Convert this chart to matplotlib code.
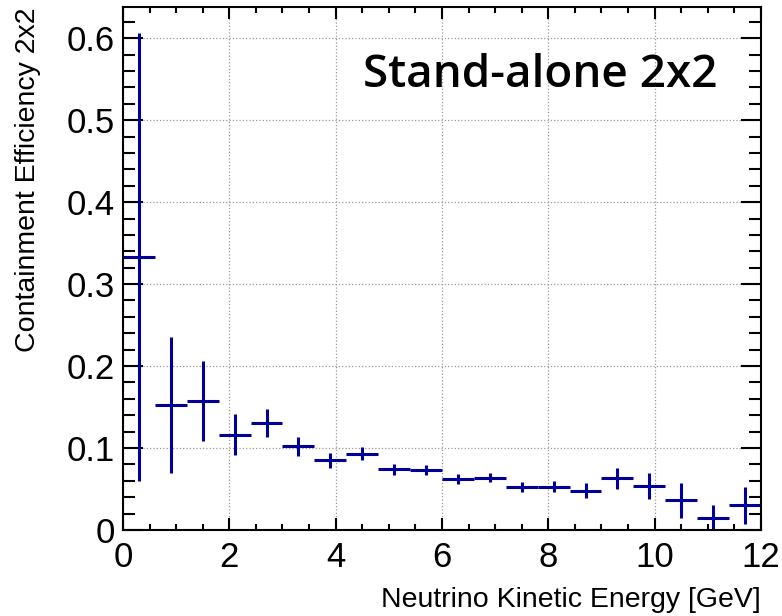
import numpy as np
import matplotlib
matplotlib.use("Agg")
import matplotlib.pyplot as plt
from matplotlib.ticker import MultipleLocator

# Bin centres (0.6 GeV wide bins from 0 to 12 GeV).
energy = [0.3, 0.9, 1.5, 2.1, 2.7, 3.3, 3.9, 4.5, 5.1, 5.7,
          6.3, 6.9, 7.5, 8.1, 8.7, 9.3, 9.9, 10.5, 11.1, 11.7]
half_width = [0.3] * 20

# Containment efficiency and its uncertainty.
efficiency = [0.333, 0.152, 0.157, 0.116, 0.131, 0.102, 0.085, 0.093, 0.074, 0.073,
              0.062, 0.064, 0.052, 0.053, 0.048, 0.063, 0.054, 0.036, 0.015, 0.030]
error = [0.273, 0.083, 0.049, 0.025, 0.017, 0.012, 0.009, 0.008, 0.007, 0.006,
         0.006, 0.006, 0.006, 0.007, 0.009, 0.013, 0.016, 0.021, 0.016, 0.023]

plt.rcParams["font.family"] = ["Liberation Sans", "DejaVu Sans"]

fig = plt.figure(figsize=(7.82, 6.16), dpi=100)
ax = fig.add_axes([0.1573, 0.1396, 0.9731 - 0.1573, 0.9886 - 0.1396])

ax.errorbar(energy, efficiency, xerr=half_width, yerr=error, fmt="none",
            ecolor="#000099", elinewidth=2.2, capsize=0)

ax.set_xlim(0, 12)
ax.set_ylim(0, 0.638)

# ROOT style ticks: inside, on all four sides.
ax.xaxis.set_major_locator(MultipleLocator(2))
ax.xaxis.set_minor_locator(MultipleLocator(0.5))
ax.yaxis.set_major_locator(MultipleLocator(0.1))
ax.yaxis.set_minor_locator(MultipleLocator(0.02))
ax.tick_params(which="both", direction="in", top=True, right=True, width=1.5)
ax.tick_params(which="major", labelsize=25)
ax.tick_params(axis="x", which="major", length=8.6, pad=8)
ax.tick_params(axis="x", which="minor", length=4.3)
ax.tick_params(axis="y", which="major", length=14.4, pad=6)
ax.tick_params(axis="y", which="minor", length=8.6)
ax.set_yticks([0, 0.1, 0.2, 0.3, 0.4, 0.5, 0.6])
ax.set_yticklabels(["0", "0.1", "0.2", "0.3", "0.4", "0.5", "0.6"])

for spine in ax.spines.values():
    spine.set_linewidth(1.5)

ax.grid(True, which="major", linestyle=":", color="#999999", linewidth=0.9)
ax.set_axisbelow(True)

ax.set_xlabel("Neutrino Kinetic Energy [GeV]", fontsize=20.5, loc="right", labelpad=9)
ax.set_ylabel("Containment Efficiency 2x2", fontsize=20.5, loc="top", labelpad=18)

ax.text(0.376, 0.847, "Stand-alone 2x2", transform=ax.transAxes, fontsize=33,
        fontweight="semibold", family=["Open Sans", "DejaVu Sans"], ha="left", va="baseline")

fig.savefig("out.png", dpi=100)
